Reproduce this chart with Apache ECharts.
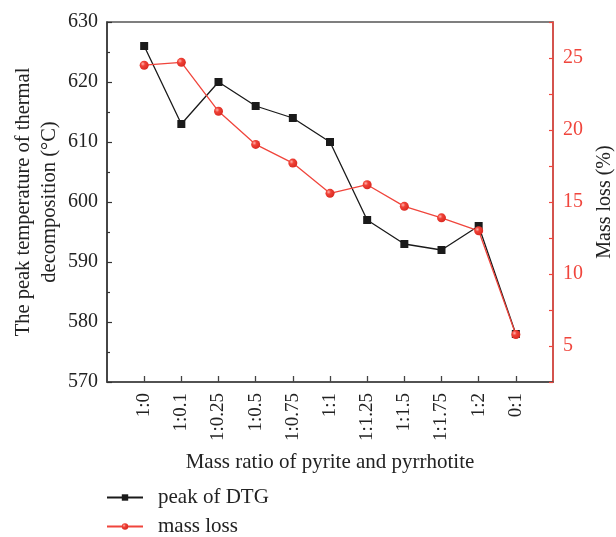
<!DOCTYPE html>
<html>
<head>
<meta charset="utf-8">
<script src="https://cdn.jsdelivr.net/npm/echarts@6/dist/echarts.min.js"></script>
<style>
  html, body { margin: 0; padding: 0; background: #fff; }
  #chart { width: 616px; height: 537px; }
</style>
</head>
<body>
<div id="chart"></div>
<script>
// Mass ratios of pyrite to pyrrhotite
const categories = ['1:0', '1:0.1', '1:0.25', '1:0.5', '1:0.75', '1:1', '1:1.25', '1:1.5', '1:1.75', '1:2', '0:1'];
// Peak temperature of the DTG curve (°C)
const peakDTG = [626, 613, 620, 616, 614, 610, 597, 593, 592, 596, 578];
// Mass loss (%)
const massLoss = [24.5, 24.7, 21.3, 19.0, 17.7, 15.6, 16.2, 14.7, 13.9, 13.0, 5.8];

const FONT = 'Liberation Serif';
const RED = '#f0453c';
const positions = categories.map((_, i) => i + 1);

const chart = echarts.init(document.getElementById('chart'), null, { renderer: 'canvas' });

const sphere = new echarts.graphic.RadialGradient(0.35, 0.35, 0.7, [
  { offset: 0, color: '#ffb3ad' },
  { offset: 0.35, color: '#f04237' },
  { offset: 1, color: '#d8271f' }
]);

chart.setOption({
  animation: false,
  textStyle: { fontFamily: FONT },
  grid: {
    left: 107, right: 63, top: 22, bottom: 155,
    outerBoundsMode: 'none', containLabel: false,
    show: true, borderColor: '#555', borderWidth: 1.5, backgroundColor: 'transparent'
  },
  legend: {
    orient: 'vertical',
    left: 106, top: 487,
    padding: 0,
    itemWidth: 36, itemHeight: 8, itemGap: 8,
    textStyle: { fontFamily: FONT, fontSize: 21, color: '#222', padding: [0, 0, 0, 10] },
    data: ['peak of DTG', 'mass loss']
  },
  xAxis: {
    type: 'value',
    min: 0, max: categories.length + 1, interval: 1,
    name: 'Mass ratio of pyrite and pyrrhotite',
    nameLocation: 'middle', nameGap: 70, nameMoveOverlap: false,
    nameTextStyle: { fontFamily: FONT, fontSize: 21, color: '#222' },
    axisLine: { lineStyle: { color: '#444', width: 1.5 } },
    axisTick: { inside: true, length: 6, customValues: positions, lineStyle: { color: '#444', width: 1.3 } },
    axisLabel: {
      customValues: positions,
      rotate: 90, margin: 11,
      fontFamily: FONT, fontSize: 19, color: '#222',
      formatter: v => categories[Math.round(v) - 1] || ''
    },
    splitLine: { show: false }
  },
  yAxis: [
    {
      type: 'value',
      min: 570, max: 630, interval: 10,
      name: 'The peak temperature of thermal\ndecomposition (°C)',
      nameLocation: 'middle', nameGap: 44, nameMoveOverlap: false,
      nameTextStyle: { fontFamily: FONT, fontSize: 20.5, color: '#222', lineHeight: 26 },
      axisLine: { show: true, lineStyle: { color: '#333', width: 1.5 } },
      axisTick: { inside: true, length: 5, lineStyle: { color: '#333', width: 1.2 } },
      minorTick: { show: true, splitNumber: 2, length: 3, lineStyle: { color: '#333', width: 1.2 } },
      axisLabel: { fontFamily: FONT, fontSize: 20, color: '#222', margin: 9 },
      splitLine: { show: false }
    },
    {
      type: 'value',
      position: 'right',
      min: 2.5, max: 27.5, interval: 2.5,
      name: 'Mass loss (%)',
      nameLocation: 'middle', nameGap: 42,
      nameTextStyle: { fontFamily: FONT, fontSize: 20, color: '#222' },
      axisLine: { show: true, lineStyle: { color: RED, width: 1.5 } },
      axisTick: { inside: true, length: 4, lineStyle: { color: RED, width: 1.2 } },
      axisLabel: {
        fontFamily: FONT, fontSize: 20, color: RED, margin: 10,
        formatter: v => (Math.abs(v % 5) < 1e-6 ? String(v) : '')
      },
      splitLine: { show: false }
    }
  ],
  series: [
    {
      name: 'peak of DTG',
      type: 'line',
      yAxisIndex: 0,
      data: peakDTG.map((v, i) => [positions[i], v]),
      symbol: 'rect', symbolSize: 8,
      lineStyle: { color: '#1a1a1a', width: 1.3 },
      itemStyle: { color: '#1a1a1a' },
      z: 2
    },
    {
      name: 'mass loss',
      type: 'line',
      yAxisIndex: 1,
      data: massLoss.map((v, i) => [positions[i], v]),
      symbol: 'circle', symbolSize: 9,
      lineStyle: { color: RED, width: 1.3 },
      itemStyle: { color: sphere },
      z: 3
    }
  ]
});
</script>
</body>
</html>
